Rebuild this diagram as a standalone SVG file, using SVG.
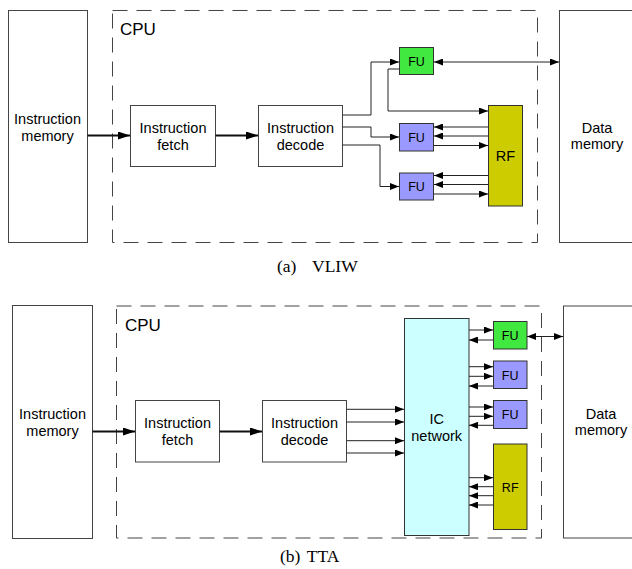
<svg xmlns="http://www.w3.org/2000/svg" width="632" height="569" viewBox="0 0 632 569">
<defs>
<style>
.box{fill:#fff;stroke:#444;stroke-width:1}
.cpu{fill:none;stroke:#444;stroke-width:1;stroke-dasharray:15 9}
.lbl{font-family:"Liberation Sans",Arial,sans-serif;font-size:14.5px;text-anchor:middle;fill:#000}
.cpul{font-family:"Liberation Sans",Arial,sans-serif;font-size:17px;fill:#000}
.ful{font-family:"Liberation Sans",Arial,sans-serif;font-size:12.5px;text-anchor:middle;fill:#000}
.fu{fill:#9999ff;stroke:#333;stroke-width:1}
.fug{fill:#40e840;stroke:#333;stroke-width:1}
.rf{fill:#cccc00;stroke:#333;stroke-width:1}
.ic{fill:#ccffff;stroke:#333;stroke-width:1}
.c{fill:none;stroke:#222;stroke-width:1;marker-end:url(#a)}
.d{fill:none;stroke:#222;stroke-width:1;marker-end:url(#a);marker-start:url(#a)}
.big{fill:none;stroke:#111;stroke-width:1.8;marker-end:url(#A)}
.cap{font-family:"Liberation Serif","Times New Roman",serif;font-size:17.5px;fill:#000}
</style>
<marker id="a" markerUnits="userSpaceOnUse" markerWidth="9" markerHeight="7" refX="9" refY="3.5" orient="auto-start-reverse"><path d="M0,0 L9,3.5 L0,7 z" fill="#000"/></marker>
<marker id="A" markerUnits="userSpaceOnUse" markerWidth="12" markerHeight="8" refX="12" refY="4" orient="auto"><path d="M0,0 L12,4 L0,8 z" fill="#000"/></marker>
</defs>
<rect width="632" height="569" fill="#fff"/>

<!-- (a) VLIW -->
<g id="cpu1"><rect class="cpu" x="112.5" y="10.5" width="425" height="232"/><text class="cpul" x="120" y="35">CPU</text></g>
<g id="imem1"><rect class="box" x="8.5" y="10.5" width="79" height="232"/><text class="lbl" x="47.5" y="124">Instruction</text><text class="lbl" x="47.5" y="141">memory</text></g>
<g id="fetch1"><rect class="box" x="130.5" y="105.5" width="85" height="61"/><text class="lbl" x="173" y="133">Instruction</text><text class="lbl" x="173" y="150">fetch</text></g>
<g id="decode1"><rect class="box" x="258.5" y="105.5" width="84" height="61"/><text class="lbl" x="300.5" y="133">Instruction</text><text class="lbl" x="300.5" y="150">decode</text></g>
<g id="fu1g"><rect class="fug" x="399.5" y="47.5" width="34" height="27"/><text class="ful" x="416.5" y="65.5">FU</text></g>
<g id="fu1a"><rect class="fu" x="399.5" y="123.5" width="34" height="27.5"/><text class="ful" x="416.5" y="141.5">FU</text></g>
<g id="fu1b"><rect class="fu" x="399.5" y="173" width="34" height="27"/><text class="ful" x="416.5" y="191">FU</text></g>
<g id="rf1"><rect class="rf" x="488.5" y="105.5" width="34" height="100.5"/><text class="lbl" x="505.5" y="161">RF</text></g>
<g id="dmem1"><rect class="box" x="559.5" y="10.5" width="100" height="232"/><text class="lbl" x="597" y="133">Data</text><text class="lbl" x="597" y="148.5">memory</text></g>
<text id="capa" class="cap" y="272"><tspan x="277">(a)</tspan><tspan x="312">VLIW</tspan></text>

<g id="connectors1">
<path class="big" d="M87.5,135.5 H130"/>
<path class="big" d="M215.5,135.5 H258"/>
<path class="c" d="M342.5,115 H371 V62 H399"/>
<path class="c" d="M342.5,127 H371 V137 H399"/>
<path class="c" d="M342.5,145 H380 V186.5 H399"/>
<path class="c" d="M399,69 H388 V111 H488"/>
<path class="c" d="M488,127 H434"/>
<path class="c" d="M488,136 H434"/>
<path class="c" d="M434,145.5 H488"/>
<path class="c" d="M488,175.5 H434"/>
<path class="c" d="M488,184.5 H434"/>
<path class="c" d="M434,194 H488"/>
<path class="d" d="M434,62 H559"/>
</g>

<!-- (b) TTA -->
<g id="cpu2"><rect class="cpu" x="116.5" y="306" width="425" height="232"/><text class="cpul" x="125" y="331">CPU</text></g>
<g id="imem2"><rect class="box" x="12.5" y="305.5" width="80" height="233"/><text class="lbl" x="52.5" y="419">Instruction</text><text class="lbl" x="52.5" y="436">memory</text></g>
<g id="fetch2"><rect class="box" x="135.5" y="400.5" width="84" height="61.5"/><text class="lbl" x="177.5" y="428">Instruction</text><text class="lbl" x="177.5" y="445">fetch</text></g>
<g id="decode2"><rect class="box" x="262.5" y="400.5" width="84" height="61.5"/><text class="lbl" x="304.5" y="428">Instruction</text><text class="lbl" x="304.5" y="445">decode</text></g>
<g id="ic"><rect class="ic" x="404.5" y="318.5" width="64.5" height="217"/><text class="lbl" x="436.7" y="424">IC</text><text class="lbl" x="436.7" y="440.5">network</text></g>
<g id="fu2g"><rect class="fug" x="493.5" y="321.5" width="33.5" height="27.5"/><text class="ful" x="510.2" y="340">FU</text></g>
<g id="fu2a"><rect class="fu" x="493.5" y="361" width="33.5" height="27.5"/><text class="ful" x="510.2" y="379.5">FU</text></g>
<g id="fu2b"><rect class="fu" x="493.5" y="400.5" width="33.5" height="28"/><text class="ful" x="510.2" y="419">FU</text></g>
<g id="rf2"><rect class="rf" x="493.5" y="444" width="33.5" height="85.5"/><text class="ful" x="510.2" y="491.5">RF</text></g>
<g id="dmem2"><rect class="box" x="563.5" y="306" width="100" height="232"/><text class="lbl" x="601" y="419">Data</text><text class="lbl" x="601" y="435">memory</text></g>
<text id="capb" class="cap" y="562"><tspan x="280">(b)</tspan><tspan x="306.7">TTA</tspan></text>

<g id="connectors2">
<path class="big" d="M92.5,431.5 H135"/>
<path class="big" d="M219.5,431.5 H262"/>
<path class="c" d="M346.5,409.3 H404"/>
<path class="c" d="M346.5,422 H404"/>
<path class="c" d="M346.5,440.7 H404"/>
<path class="c" d="M346.5,453 H404"/>
<path class="c" d="M469,330 H493"/>
<path class="c" d="M493,340 H469"/>
<path class="c" d="M469,366.7 H493"/>
<path class="c" d="M469,376.3 H493"/>
<path class="c" d="M493,386 H469"/>
<path class="c" d="M469,407 H493"/>
<path class="c" d="M469,416.3 H493"/>
<path class="c" d="M493,425.3 H469"/>
<path class="c" d="M469,477.7 H493"/>
<path class="c" d="M493,486.7 H469"/>
<path class="c" d="M493,495.7 H469"/>
<path class="c" d="M493,505 H469"/>
<path class="d" d="M527,336.5 H563"/>
</g>
</svg>
